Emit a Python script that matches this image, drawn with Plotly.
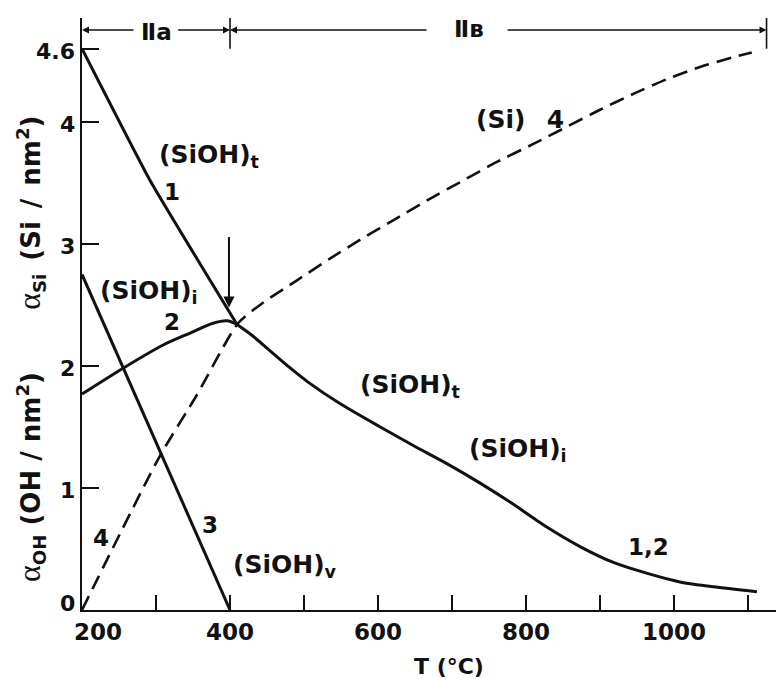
import plotly.graph_objects as go

# ---------------- data ----------------
# curve 1: (SiOH)t, up to the junction
T1 = [200, 292, 409.5]
Y1 = [4.6, 3.52, 2.34]
# curve 2: (SiOH)i up to the junction
T2 = [200, 255, 309, 346, 377, 396, 409.5]
Y2 = [1.77, 1.98, 2.17, 2.27, 2.35, 2.37, 2.34]
# merged curve 1,2 after the junction
T12 = [409.5, 430, 455, 480, 505, 549, 603, 647, 693, 738, 782, 828, 873, 918, 964, 1008, 1053, 1112]
Y12 = [2.34, 2.25, 2.12, 1.99, 1.87, 1.69, 1.50, 1.35, 1.20, 1.04, 0.87, 0.68, 0.52, 0.39, 0.30, 0.23, 0.19, 0.15]
# curve 3: (SiOH)v
T3 = [200, 400]
Y3 = [2.75, 0.0]
# curve 4: (Si), dashed
T4 = [200, 305, 355, 410.8, 445, 490, 535, 580, 625, 670, 715, 760, 810, 855, 900, 945, 990, 1035, 1080, 1105]
Y4 = [0.0, 1.26, 1.76, 2.35, 2.52, 2.70, 2.88, 3.05, 3.21, 3.37, 3.52, 3.67, 3.82, 3.96, 4.10, 4.23, 4.35, 4.45, 4.53, 4.57]

# axis ticks
X_TICKS = [200, 300, 400, 500, 600, 700, 800, 900, 1000, 1100]
X_TICKTEXT = ["\u2007\u2007200", "", "400", "", "600", "", "800", "", "1000", ""]
Y_TICKS = [0, 1, 2, 3, 4, 4.6]
Y_TICKTEXT = ["0", "1", "2", "3", "4", "4.6"]

# regions on top
REGION_BOUNDS = [200, 400, 1125]
REGION_NAMES = ["\u2161a", "\u2161\u0432"]

X_RANGE = [200, 1148.6]
Y_RANGE = [0, 4.852]

FONT = "DejaVu Sans"
INK = "#111111"

fig = go.Figure()

solid = dict(color=INK, width=3)
fig.add_trace(go.Scatter(x=T1, y=Y1, mode="lines", line=dict(shape="spline", smoothing=0.4, **solid),
                         name="1", showlegend=False, hoverinfo="skip"))
fig.add_trace(go.Scatter(x=T2, y=Y2, mode="lines", line=dict(shape="spline", smoothing=0.8, **solid),
                         name="2", showlegend=False, hoverinfo="skip"))
fig.add_trace(go.Scatter(x=T12, y=Y12, mode="lines", line=dict(shape="spline", smoothing=0.7, **solid),
                         name="1,2", showlegend=False, hoverinfo="skip"))
fig.add_trace(go.Scatter(x=T3, y=Y3, mode="lines", line=solid,
                         name="3", showlegend=False, hoverinfo="skip"))
fig.add_trace(go.Scatter(x=T4, y=Y4, mode="lines",
                         line=dict(color=INK, width=2.6, dash="15px,8px", shape="spline", smoothing=0.6),
                         name="4", showlegend=False, hoverinfo="skip"))

ann = []
def label(text, x, y, size=25, xanchor="center", yanchor="middle"):
    ann.append(dict(text=text, x=x, y=y, xref="x", yref="y", showarrow=False,
                    xanchor=xanchor, yanchor=yanchor,
                    font=dict(family=FONT, size=size, color=INK, weight="bold")))

label("(SiOH)<sub>t</sub>", 301, 3.72, xanchor="left")
label("1", 322, 3.43, size=23)
label("(SiOH)<sub>i</sub>", 222, 2.61, xanchor="left")
label("2", 322, 2.36, size=23)
label("3", 373, 0.70, size=23)
label("4", 226, 0.59, size=23)
label("(SiOH)<sub>v</sub>", 401, 0.36, xanchor="left")
label("(SiOH)<sub>t</sub>", 573, 1.84, xanchor="left")
label("(SiOH)<sub>i</sub>", 720, 1.31, xanchor="left")
label("1,2", 965, 0.52, size=23)
label("(Si)\u2002 4", 730, 4.02, xanchor="left")

# y tick labels, set just left of the axis line (left edge from DejaVu Sans Bold glyph widths)
for v, t in zip(Y_TICKS, Y_TICKTEXT):
    w = 15.3 * sum(1.0 if c.isdigit() else 0.55 for c in t)
    ann.append(dict(text=t, x=200, y=v, xref="x", yref="y", showarrow=False,
                    xanchor="left", yanchor="middle", xshift=-9 - w,
                    yshift=(7 if v == 0 else -3),
                    font=dict(family=FONT, size=22, color=INK, weight="bold")))

# vertical arrow at the junction
ann.append(dict(text="", x=398.6, y=2.48, ax=398.6, ay=3.07, xref="x", yref="y",
                axref="x", ayref="y", showarrow=True, arrowhead=2, arrowsize=1.1,
                arrowwidth=2, arrowcolor=INK, standoff=0, startstandoff=0))

# region brackets on top
YB = 4.754
def harrow(tip, tail):
    ann.append(dict(text="", x=tip, y=YB, ax=tail, ay=YB, xref="x", yref="y",
                    axref="x", ayref="y", showarrow=True, arrowhead=2, arrowsize=1.0,
                    arrowwidth=1.4, arrowcolor=INK, standoff=0, startstandoff=0))

harrow(REGION_BOUNDS[0], 271.6)
harrow(REGION_BOUNDS[1], 328)
harrow(REGION_BOUNDS[1], 667.6)
harrow(REGION_BOUNDS[2], 773)
label(REGION_NAMES[0], 301, 4.74, size=23)
label(REGION_NAMES[1], 723, 4.76, size=23)

shapes = []
for xb in REGION_BOUNDS[1:]:
    shapes.append(dict(type="line", xref="x", yref="y", x0=xb, x1=xb, y0=4.60, y1=4.87,
                       line=dict(color=INK, width=1.6)))

# axis titles
ann.append(dict(text="T (\u00b0C)", x=696, y=-0.0947, xref="x", yref="paper", showarrow=False,
                xanchor="center", yanchor="middle",
                font=dict(family=FONT, size=22, color=INK, weight="bold")))
alpha = "<span style='font-family:Liberation Serif;font-weight:normal;font-size:32px'>\u03b1</span>"
ann.append(dict(text=alpha + "<sub>Si</sub>\u2002(Si\u2002/\u2002nm<sup>2</sup>)", x=-0.074, y=0.671,
                xref="paper", yref="paper", showarrow=False, textangle=-90,
                xanchor="center", yanchor="middle",
                font=dict(family=FONT, size=26, color=INK, weight="bold")))
ann.append(dict(text=alpha + "<sub>OH</sub> (OH / nm<sup>2</sup>)", x=-0.074, y=0.2247,
                xref="paper", yref="paper", showarrow=False, textangle=-90,
                xanchor="center", yanchor="middle",
                font=dict(family=FONT, size=26, color=INK, weight="bold")))

# the page body adds an 8 px offset; the figure is sized so the plot area lands
# at x 82..784, y 18..610 of the window
fig.update_layout(
    width=776, height=671,
    margin=dict(l=74, r=0, t=10, b=69, pad=0),
    paper_bgcolor="white", plot_bgcolor="white",
    showlegend=False,
    annotations=ann, shapes=shapes,
    xaxis=dict(range=X_RANGE, showgrid=False, zeroline=False, showline=True,
               linecolor=INK, linewidth=2, ticks="inside", ticklen=15, tickwidth=1.8,
               tickcolor=INK, tickmode="array", tickvals=X_TICKS, ticktext=X_TICKTEXT,
               tickfont=dict(family=FONT, size=23, color=INK, weight="bold"),
               automargin=False),
    yaxis=dict(range=Y_RANGE, showgrid=False, zeroline=False, showline=True,
               linecolor=INK, linewidth=2, ticks="inside", ticklen=17, tickwidth=1.8,
               tickcolor=INK, tickmode="array", tickvals=Y_TICKS,
               showticklabels=False, automargin=False),
)

fig.write_html("out.html")
